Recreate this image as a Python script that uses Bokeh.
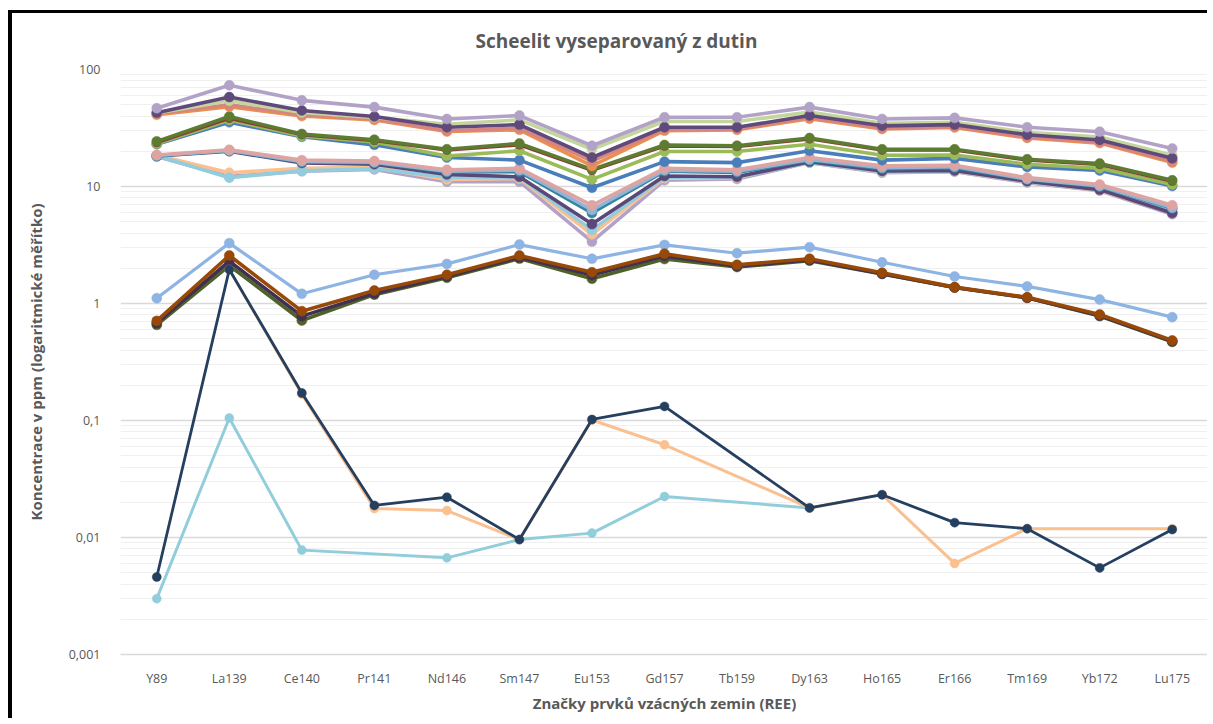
import math
from bokeh.plotting import figure
from bokeh.models import Range1d, FixedTicker, CustomJSTickFormatter
from bokeh.embed import file_html
from bokeh.resources import INLINE

# ---------------- data ----------------
categories = ["Y89", "La139", "Ce140", "Pr141", "Nd146", "Sm147", "Eu153", "Gd157",
              "Tb159", "Dy163", "Ho165", "Er166", "Tm169", "Yb172", "Lu175"]

NA = None

# third group (~10-20 ppm)
s_lpurple_mid = [18.0, 12.2, 13.5, 14.0, 11.0, 11.0, 3.38, 11.3, 11.6, 16.0, 13.1, 13.4, 10.8, 9.2, 5.8]
s_lorange_mid = [18.5, 13.1, 14.3, 14.6, 11.5, 11.7, 3.91, 11.8, 11.9, 16.1, 13.3, 13.5, 11.0, 9.3, 6.0]
s_aqua_mid = [18.3, 11.9, 13.6, 14.2, 12.0, 11.9, 4.26, 12.0, 12.0, 16.0, 13.4, 13.6, 11.0, 9.4, 6.1]
s_dpurple_mid = [18.2, 20.0, 15.9, 15.5, 12.7, 12.1, 4.77, 12.3, 12.1, 16.3, 13.6, 13.7, 11.1, 9.4, 5.93]
s_teal_mid = [18.3, 20.2, 16.2, 16.0, 13.3, 13.4, 5.93, 13.5, 13.2, 16.8, 14.2, 14.5, 11.5, 10.0, 6.5]
s_lblue_mid = [18.4, 20.3, 16.4, 16.1, 13.5, 13.8, 6.3, 13.8, 13.5, 17.0, 14.5, 14.8, 11.6, 10.1, 6.6]
s_pink_mid = [18.6, 20.6, 16.8, 16.5, 13.9, 14.3, 6.9, 14.3, 13.9, 17.7, 15.0, 15.2, 11.9, 10.4, 6.9]

# second group (~17-40 ppm)
s_blue = [23.0, 35.4, 26.6, 22.7, 17.7, 16.8, 9.75, 16.3, 16.0, 20.2, 16.8, 17.4, 14.7, 13.7, 10.1]
s_lgreen = [23.2, 37.0, 27.0, 24.0, 18.2, 20.2, 11.5, 19.9, 19.9, 23.0, 18.5, 18.6, 15.5, 14.3, 10.4]
s_dred = [23.5, 38.0, 27.5, 24.5, 20.3, 22.5, 13.6, 22.0, 21.8, 25.3, 20.3, 20.3, 16.7, 15.3, 11.0]
s_dgreen = [24.3, 39.6, 28.1, 25.1, 20.8, 23.3, 14.0, 22.6, 22.3, 26.0, 20.8, 20.8, 17.1, 15.7, 11.3]

# top group (~30-75 ppm)
s_orange_top = [41.0, 48.0, 40.0, 37.0, 29.5, 30.5, 15.0, 30.0, 30.5, 38.0, 31.0, 32.0, 26.0, 23.5, 16.0]
s_salmon_top = [42.0, 49.9, 41.2, 37.8, 30.0, 31.5, 16.5, 30.8, 31.0, 39.0, 31.5, 32.5, 26.5, 24.0, 16.5]
s_lgreen_top = [42.5, 54.0, 43.0, 39.0, 34.0, 37.1, 20.8, 36.1, 35.9, 43.2, 34.7, 35.4, 29.0, 26.5, 18.5]
s_dpurple_top = [42.6, 58.1, 44.6, 39.6, 32.1, 33.8, 17.7, 32.1, 32.1, 40.4, 33.0, 33.8, 27.7, 25.0, 17.4]
s_lpurple_top = [46.7, 73.3, 54.5, 47.7, 37.8, 40.4, 22.3, 39.1, 39.1, 47.7, 37.8, 38.6, 32.1, 29.4, 21.1]

# low group (~0.5-3 ppm)
s_lblue_low = [1.11, 3.28, 1.21, 1.76, 2.18, 3.19, 2.41, 3.17, 2.69, 3.03, 2.25, 1.70, 1.40, 1.08, 0.764]
s_dgreen_low = [0.657, 2.11, 0.716, 1.19, 1.66, 2.42, 1.63, 2.40, 2.05, 2.32, 1.79, 1.37, 1.12, 0.78, 0.47]
s_dpurple_low = [0.68, 2.30, 0.78, 1.22, 1.70, 2.48, 1.75, 2.55, 2.08, 2.36, 1.80, 1.37, 1.12, 0.79, 0.475]
s_brown_low = [0.71, 2.57, 0.86, 1.29, 1.76, 2.57, 1.85, 2.66, 2.14, 2.41, 1.83, 1.38, 1.13, 0.805, 0.483]

# trace group (<0.2 ppm), gaps are missing values
s_aqua_trace = [0.0030, 0.105, 0.0078, NA, 0.0067, 0.0096, 0.0109, 0.0224, NA, 0.0179, NA, NA, NA, NA, NA]
s_orange_trace = [NA, 1.95, 0.168, 0.0177, 0.0170, 0.0096, 0.101, 0.062, NA, 0.0179, 0.0232, 0.0060, 0.0119, NA, 0.0119]
s_navy_trace = [0.0046, 1.95, 0.172, 0.0188, 0.0221, 0.0096, 0.102, 0.132, NA, 0.0179, 0.0232, 0.0134, 0.0119, 0.0055, 0.0117]

y_ticks = [0.001, 0.01, 0.1, 1, 10, 100]
title_text = "Scheelit vyseparovaný z dutin"

# ---------------- styles ----------------
series = [
    (s_lpurple_mid, "#B3A2C7", 3.6, 10),
    (s_lorange_mid, "#FAC090", 3.6, 10),
    (s_aqua_mid, "#93CDDD", 3.6, 10),
    (s_dpurple_mid, "#5B4878", 3.6, 10),
    (s_teal_mid, "#31859C", 3.6, 10),
    (s_lblue_mid, "#95B3D7", 3.6, 10),
    (s_pink_mid, "#DDA4A2", 3.6, 10),
    (s_blue, "#4A7EBB", 3.6, 10),
    (s_lgreen, "#9BBB59", 3.6, 10),
    (s_dred, "#8B3A36", 2.6, 8),
    (s_dgreen, "#5E7B32", 3.6, 10),
    (s_orange_top, "#E9904E", 3.6, 10),
    (s_salmon_top, "#D9857F", 3.6, 10),
    (s_lgreen_top, "#C3D69B", 3.6, 10),
    (s_dpurple_top, "#604A7B", 3.6, 10),
    (s_lpurple_top, "#B3A2C7", 3.6, 10),
    (s_lblue_low, "#8DB4E2", 3.2, 10),
    (s_dgreen_low, "#4F6228", 3.6, 10),
    (s_dpurple_low, "#403152", 3.6, 10),
    (s_brown_low, "#984807", 3.6, 10),
    (s_aqua_trace, "#92CDDC", 3.0, 9),
    (s_orange_trace, "#FAC090", 3.0, 9),
    (s_navy_trace, "#243F60", 2.8, 9),
]

TXT = "#595959"
FONT = "Open Sans"

p = figure(width=1199, height=708, y_axis_type="log",
           x_range=Range1d(-0.5, 14.5), y_range=Range1d(0.001, 100),
           output_backend="svg", toolbar_location=None,
           min_border_left=108, min_border_right=3,
           min_border_top=56, min_border_bottom=67)
p.styles = {"border-left": "4px solid black", "border-top": "3px solid black",
            "margin-top": "10px", "margin-left": "8px"}

p.title.text = title_text
p.title.align = "left"
p.title.offset = 355
p.title.vertical_align = "top"
p.title.text_font = FONT
p.title.text_font_size = "19px"
p.title.text_font_style = "bold"
p.title.text_color = TXT
p.title.standoff = 28

for vals, color, lw, ms in series:
    xs = [i for i, v in enumerate(vals) if v is not None]
    ys = [v for v in vals if v is not None]
    p.line(xs, ys, line_color=color, line_width=lw, line_join="round", line_cap="round")
    p.scatter(xs, ys, size=ms, fill_color=color, line_color=color, line_width=0.5)

# axes
p.xaxis.ticker = FixedTicker(ticks=list(range(len(categories))))
p.xaxis.major_label_overrides = {i: c for i, c in enumerate(categories)}
p.xaxis.axis_label = "Značky prvků vzácných zemin (REE)"
p.yaxis.axis_label = "Koncentrace v ppm (logaritmické měřítko)"

minor = [m * 10.0 ** k for k in range(-3, 2) for m in range(2, 10)]
p.yaxis.ticker = FixedTicker(ticks=y_ticks, minor_ticks=minor)
p.yaxis.formatter = CustomJSTickFormatter(code="return tick.toString().replace('.', ',')")

for ax in (p.xaxis, p.yaxis):
    ax.major_tick_line_color = None
    ax.minor_tick_line_color = None
    ax.major_label_text_font = FONT
    ax.major_label_text_font_size = "12.5px"
    ax.major_label_text_color = TXT
    ax.axis_label_text_font = FONT
    ax.axis_label_text_font_size = "15px"
    ax.axis_label_text_font_style = "bold"
    ax.axis_label_text_color = TXT

p.yaxis.axis_line_color = None
p.xaxis.axis_line_color = "#D9D9D9"
p.xaxis.axis_line_width = 1.5
p.yaxis.major_label_standoff = 14
p.yaxis.axis_label_standoff = 20
p.xaxis.major_label_standoff = 9
p.xaxis.axis_label_standoff = 3

p.xgrid.grid_line_color = None
p.ygrid.grid_line_color = "#D9D9D9"
p.ygrid.grid_line_width = 1.5
p.ygrid.minor_grid_line_color = "#F0F0F0"
p.ygrid.minor_grid_line_width = 1.2

p.outline_line_color = None
p.background_fill_color = "white"
p.border_fill_color = "white"

open("out.html", "w").write(file_html(p, INLINE))
